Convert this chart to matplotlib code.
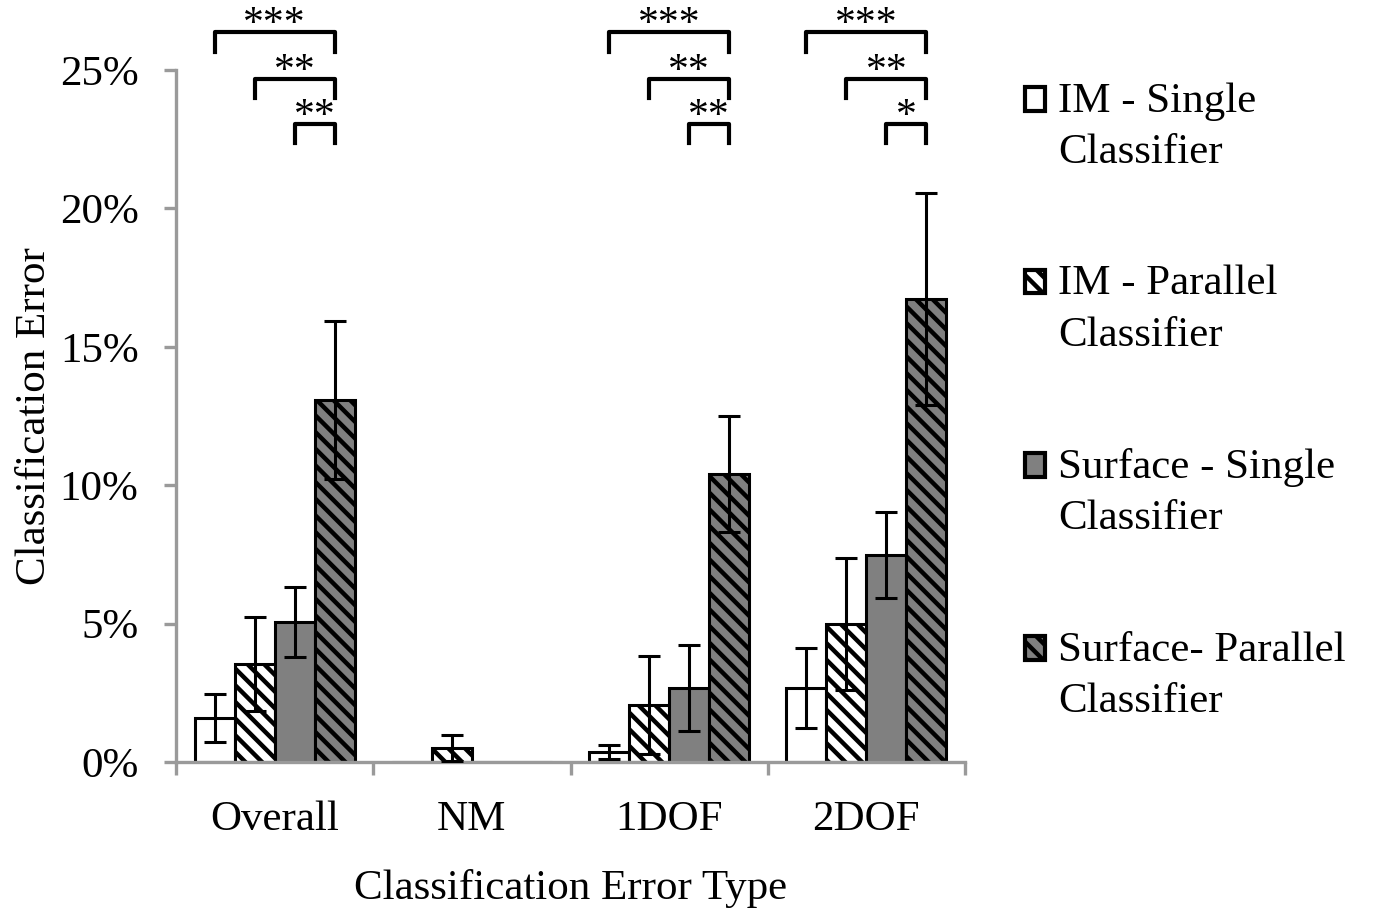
import matplotlib
matplotlib.use("Agg")
import matplotlib.pyplot as plt
import numpy as np
from matplotlib.patches import Rectangle
from matplotlib.container import BarContainer
from matplotlib.legend_handler import HandlerPatch, update_from_first_child

plt.rcParams['font.family'] = ['Liberation Serif', 'DejaVu Serif']
plt.rcParams['hatch.linewidth'] = 3.2
plt.rcParams['hatch.color'] = 'black'

# ---------------- data ----------------
categories = ['Overall', 'NM', '1DOF', '2DOF']
series = ['IM - Single\nClassifier', 'IM - Parallel\nClassifier',
          'Surface - Single\nClassifier', 'Surface- Parallel\nClassifier']

im_single = [1.6, 0.0, 0.36, 2.67]
im_single_err = [0.87, 0.0, 0.25, 1.45]
im_parallel = [3.54, 0.5, 2.06, 4.99]
im_parallel_err = [1.7, 0.47, 1.77, 2.38]
surf_single = [5.06, 0.0, 2.67, 7.48]
surf_single_err = [1.26, 0.0, 1.55, 1.55]
surf_parallel = [13.08, 0.0, 10.4, 16.73]
surf_parallel_err = [2.85, 0.0, 2.1, 3.83]

# significance brackets: (from series index, to series index, stars) per category
sig = [
    [(0, 3, '***'), (1, 3, '**'), (2, 3, '**')],
    [],
    [(0, 3, '***'), (1, 3, '**'), (2, 3, '**')],
    [(0, 3, '***'), (1, 3, '**'), (2, 3, '*')],
]
yticks = [0, 5, 10, 15, 20, 25]

values = [im_single, im_parallel, surf_single, surf_parallel]
errors = [im_single_err, im_parallel_err, surf_single_err, surf_parallel_err]
faces = ['white', 'white', '#808080', '#808080']
hatches = [None, '\\\\', None, '\\\\']

axis_gray = '#9a9a9a'
fs = 31

# ---------------- plotting ----------------
fig = plt.figure(figsize=(13.75, 9.1), dpi=100)
ax = fig.add_axes([176/1375, 1-762/910, (965-176)/1375, (762-70)/910])

x = np.arange(len(categories))
w = 0.203
offsets = (np.arange(4) - 1.5) * w

for i in range(4):
    ax.bar(x + offsets[i], values[i], w, color=faces[i], edgecolor='black',
           linewidth=2.2, hatch=hatches[i], label=series[i], zorder=2)
    err = np.array(errors[i])
    m = err > 0
    ax.errorbar((x + offsets[i])[m], np.array(values[i])[m], yerr=err[m],
                fmt='none', ecolor='black', elinewidth=2.2, capsize=8,
                capthick=2.2, zorder=3)

# brackets above the bars
levels = [(26.37, 25.65), (24.67, 23.99), (23.05, 22.36)]
for c, brs in enumerate(sig):
    for k, (a, b, stars) in enumerate(brs):
        top, bot = levels[k]
        xa = c + offsets[a]
        xb = c + offsets[b]
        ax.plot([xa, xa, xb, xb], [bot, top, top, bot], color='black',
                linewidth=3, clip_on=False, solid_joinstyle='round')
        ax.text((xa + xb) / 2, top - 0.12, stars, ha='center', va='baseline',
                fontsize=30, clip_on=False)

ax.set_xlim(-0.5, 3.5)
ax.set_ylim(0, 25)
ax.set_yticks(yticks)
ax.set_yticklabels(['%d%%' % t for t in yticks])
ax.set_xticks(x)
ax.set_xticklabels(categories)
ax.set_xticks(np.arange(-0.5, 4, 1), minor=True)

for s in ['top', 'right']:
    ax.spines[s].set_visible(False)
for s in ['left', 'bottom']:
    ax.spines[s].set_color(axis_gray)
    ax.spines[s].set_linewidth(2.4)

ax.tick_params(axis='y', direction='out', length=9, width=2.4, color=axis_gray,
               labelsize=fs, pad=18)
ax.tick_params(axis='x', which='major', length=0, labelsize=fs, pad=28)
ax.tick_params(axis='x', which='minor', direction='out', length=9, width=2.4,
               color=axis_gray)

ax.set_ylabel('Classification Error', fontsize=fs, labelpad=4)
ax.set_xlabel('Classification Error Type', fontsize=fs, labelpad=21)


def top_patch(legend, orig_handle, xdescent, ydescent, width, height, fontsize):
    # put the square next to the first line of the two-line label
    return Rectangle((-xdescent, -ydescent + 20), width, height)


leg = ax.legend(loc='upper left', bbox_to_anchor=(1025/1375, 1-82/910),
                bbox_transform=fig.transFigure, frameon=False, fontsize=fs,
                handlelength=0.47, handleheight=0.47, handletextpad=0.3,
                labelspacing=2.15, borderpad=0, borderaxespad=0,
                handler_map={BarContainer: HandlerPatch(patch_func=top_patch,
                                                        update_func=update_from_first_child)})
for t in leg.get_texts():
    t.set_linespacing(1.45)
for p in leg.get_patches():
    p.set_linewidth(3)

plt.savefig('out.png', dpi=100)
